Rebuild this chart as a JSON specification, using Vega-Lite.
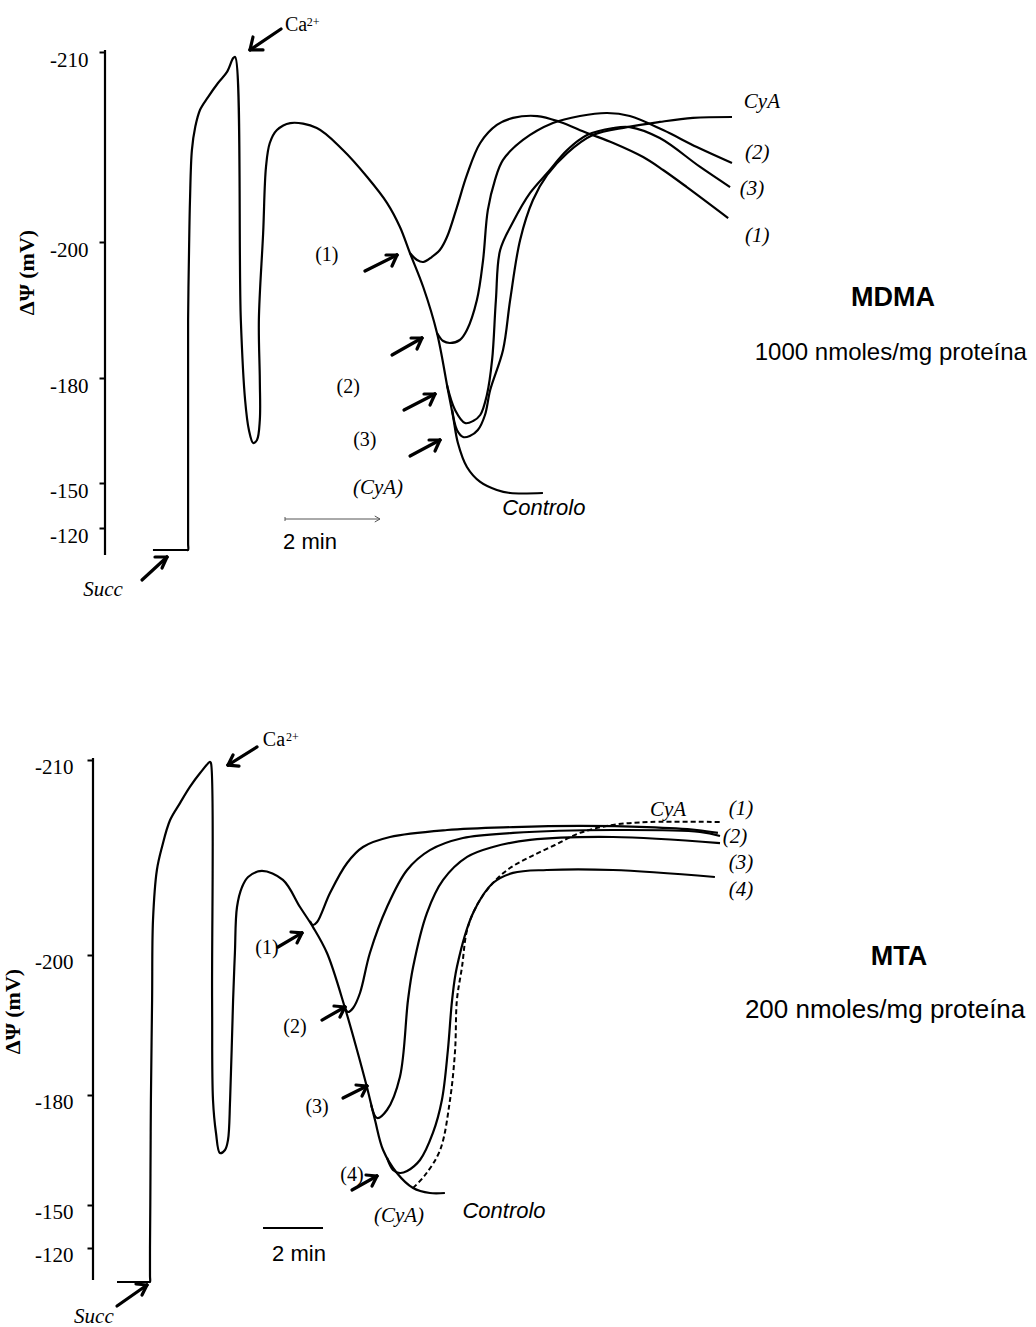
{
  "$schema": "https://vega.github.io/schema/vega-lite/v6.json",
  "padding": 0,
  "spacing": 0,
  "bounds": "flush",
  "background": "white",
  "config": {"view": {"stroke": null, "fill": "white"}},
  "vconcat": [
    {
      "width": 1036,
      "height": 640,
      "encoding": {
        "x": {"field": "t", "type": "quantitative", "scale": {"domain": [0, 21.8105], "nice": false, "zero": false}, "axis": null},
        "y": {"field": "v", "type": "quantitative",
          "scale": {"domain": [-212.737, -210, -200, -180, -150, -120, -45.333], "range": [0, 52, 242, 378, 483, 528, 640], "nice": false, "zero": false},
          "axis": {"values": [-210, -200, -180, -150, -120], "offset": -105, "domain": false, "grid": false,
            "tickSize": 6, "tickWidth": 2, "tickColor": "black",
            "labelFont": "Liberation Serif", "labelFontSize": 21, "labelColor": "black", "labelPadding": 11, "labelOffset": 8,
            "labelExpr": "'-' + abs(datum.value)", "labelFlush": false, "labelOverlap": false,
            "title": "ΔΨ (mV)", "titleFont": "Liberation Serif", "titleFontWeight": "bold", "titleFontSize": 22, "titleColor": "black",
            "titleAngle": -90, "titleX": -79, "titleY": 272, "titleAlign": "center", "titleBaseline": "middle"}
        }
      },
      "layer": [
        {
          "data": {"values": [{"t": 2.2105, "v": -210.105, "v2": -102}]},
          "mark": {"type": "rule", "color": "black", "strokeWidth": 2.2},
          "encoding": {"y2": {"field": "v2"}}
        },
        {
          "data": {"values": [
            {"s":"Controlo","i":1,"t":3.22,"v":-105.33},{"s":"Controlo","i":1.9,"t":3.93,"v":-105.33},{"s":"Controlo","i":2,"t":3.96,"v":-105.33},
            {"s":"Controlo","i":2.5,"t":3.96,"v":-109.33},{"s":"Controlo","i":3,"t":3.96,"v":-118.67},
            {"s":"Controlo","i":3.2,"t":3.96,"v":-150.0},{"s":"Controlo","i":3.4,"t":3.96,"v":-165.14},{"s":"Controlo","i":3.6,"t":3.96,"v":-180.0},
            {"s":"Controlo","i":4,"t":3.96,"v":-188.53},{"s":"Controlo","i":5,"t":3.98,"v":-198.82},{"s":"Controlo","i":6,"t":4.00,"v":-202.21},
            {"s":"Controlo","i":7,"t":4.04,"v":-204.84},{"s":"Controlo","i":8,"t":4.11,"v":-206.05},{"s":"Controlo","i":9,"t":4.21,"v":-206.95},
            {"s":"Controlo","i":10,"t":4.38,"v":-207.63},{"s":"Controlo","i":11,"t":4.59,"v":-208.37},{"s":"Controlo","i":12,"t":4.78,"v":-208.95},
            {"s":"Controlo","i":13,"t":4.91,"v":-209.68},{"s":"Controlo","i":14,"t":4.95,"v":-209.74},{"s":"Controlo","i":15,"t":5.07,"v":-188.53},
            {"s":"Controlo","i":16,"t":5.16,"v":-173.71},{"s":"Controlo","i":17,"t":5.24,"v":-165.14},{"s":"Controlo","i":18,"t":5.33,"v":-161.43},
            {"s":"Controlo","i":19,"t":5.41,"v":-162.29},{"s":"Controlo","i":20,"t":5.47,"v":-168.0},{"s":"Controlo","i":21,"t":5.47,"v":-179.43},
            {"s":"Controlo","i":22,"t":5.45,"v":-188.53},{"s":"Controlo","i":23,"t":5.54,"v":-200.47},{"s":"Controlo","i":24,"t":5.60,"v":-203.95},
            {"s":"Controlo","i":25,"t":5.68,"v":-205.21},{"s":"Controlo","i":26,"t":5.83,"v":-205.89},{"s":"Controlo","i":27,"t":6.11,"v":-206.26},
            {"s":"Controlo","i":28,"t":6.67,"v":-206.0},{"s":"Controlo","i":29,"t":7.22,"v":-204.84},{"s":"Controlo","i":30,"t":7.73,"v":-203.42},
            {"s":"Controlo","i":31,"t":8.15,"v":-202.05},{"s":"Controlo","i":32,"t":8.42,"v":-200.79},{"s":"Controlo","i":33,"t":8.63,"v":-198.38},
            {"s":"Controlo","i":34,"t":8.91,"v":-193.38},{"s":"Controlo","i":35,"t":9.20,"v":-186.62},{"s":"Controlo","i":36,"t":9.43,"v":-176.57},
            {"s":"Controlo","i":37,"t":9.54,"v":-168.86},{"s":"Controlo","i":38,"t":9.64,"v":-161.43},{"s":"Controlo","i":39,"t":9.83,"v":-154.57},
            {"s":"Controlo","i":40,"t":10.11,"v":-150.29},{"s":"Controlo","i":41,"t":10.46,"v":-145.33},{"s":"Controlo","i":42,"t":10.74,"v":-143.33},
            {"s":"Controlo","i":43,"t":11.43,"v":-143.33},
            {"s":"1","i":1,"t":8.63,"v":-198.38},{"s":"1","i":2,"t":8.78,"v":-197.35},{"s":"1","i":3,"t":8.91,"v":-197.06},
            {"s":"1","i":4,"t":9.09,"v":-197.79},{"s":"1","i":5,"t":9.26,"v":-198.82},{"s":"1","i":6,"t":9.41,"v":-200.26},
            {"s":"1","i":7,"t":9.62,"v":-201.84},{"s":"1","i":8,"t":9.83,"v":-203.53},{"s":"1","i":9,"t":10.11,"v":-205.21},
            {"s":"1","i":10,"t":10.46,"v":-206.16},{"s":"1","i":11,"t":10.80,"v":-206.53},{"s":"1","i":12,"t":11.31,"v":-206.63},
            {"s":"1","i":13,"t":11.79,"v":-206.32},{"s":"1","i":14,"t":12.36,"v":-205.74},{"s":"1","i":15,"t":12.91,"v":-205.21},
            {"s":"1","i":16,"t":13.54,"v":-204.47},{"s":"1","i":17,"t":13.96,"v":-203.79},{"s":"1","i":18,"t":14.46,"v":-202.89},
            {"s":"1","i":19,"t":15.33,"v":-201.26},
            {"s":"2","i":1,"t":9.20,"v":-186.62},{"s":"2","i":2,"t":9.33,"v":-185.44},{"s":"2","i":3,"t":9.47,"v":-185.15},
            {"s":"2","i":4,"t":9.68,"v":-185.59},{"s":"2","i":5,"t":9.83,"v":-187.06},{"s":"2","i":6,"t":10.04,"v":-191.47},
            {"s":"2","i":7,"t":10.17,"v":-197.35},{"s":"2","i":8,"t":10.27,"v":-201.68},{"s":"2","i":9,"t":10.42,"v":-203.26},
            {"s":"2","i":10,"t":10.59,"v":-204.32},{"s":"2","i":11,"t":11.01,"v":-205.37},{"s":"2","i":12,"t":11.64,"v":-206.26},
            {"s":"2","i":13,"t":12.21,"v":-206.63},{"s":"2","i":14,"t":12.78,"v":-206.79},{"s":"2","i":15,"t":13.26,"v":-206.63},
            {"s":"2","i":16,"t":13.96,"v":-205.89},{"s":"2","i":17,"t":14.67,"v":-205.0},{"s":"2","i":18,"t":15.41,"v":-204.16},
            {"s":"3","i":1,"t":9.41,"v":-178.0},{"s":"3","i":2,"t":9.58,"v":-170.86},{"s":"3","i":3,"t":9.79,"v":-167.14},
            {"s":"3","i":4,"t":9.96,"v":-167.71},{"s":"3","i":5,"t":10.11,"v":-169.43},{"s":"3","i":6,"t":10.25,"v":-175.14},
            {"s":"3","i":7,"t":10.36,"v":-182.65},{"s":"3","i":8,"t":10.44,"v":-191.47},{"s":"3","i":9,"t":10.53,"v":-198.82},
            {"s":"3","i":10,"t":10.80,"v":-201.05},{"s":"3","i":11,"t":11.16,"v":-202.58},{"s":"3","i":12,"t":11.52,"v":-203.63},
            {"s":"3","i":13,"t":11.94,"v":-204.84},{"s":"3","i":14,"t":12.36,"v":-205.63},{"s":"3","i":15,"t":12.91,"v":-206.0},
            {"s":"3","i":16,"t":13.26,"v":-206.05},{"s":"3","i":17,"t":13.89,"v":-205.47},{"s":"3","i":18,"t":14.74,"v":-203.95},
            {"s":"3","i":19,"t":15.37,"v":-202.89},
            {"s":"CyA","i":1,"t":9.52,"v":-170.86},{"s":"CyA","i":2,"t":9.62,"v":-165.14},{"s":"CyA","i":3,"t":9.75,"v":-163.14},
            {"s":"CyA","i":4,"t":9.89,"v":-163.43},{"s":"CyA","i":5,"t":10.06,"v":-165.14},{"s":"CyA","i":6,"t":10.21,"v":-169.43},
            {"s":"CyA","i":7,"t":10.32,"v":-176.57},{"s":"CyA","i":8,"t":10.59,"v":-184.12},{"s":"CyA","i":9,"t":10.74,"v":-191.47},
            {"s":"CyA","i":10,"t":10.95,"v":-200.11},{"s":"CyA","i":11,"t":11.22,"v":-202.21},{"s":"CyA","i":12,"t":11.52,"v":-203.53},
            {"s":"CyA","i":13,"t":11.94,"v":-204.68},{"s":"CyA","i":14,"t":12.48,"v":-205.63},{"s":"CyA","i":15,"t":13.20,"v":-206.05},
            {"s":"CyA","i":16,"t":13.89,"v":-206.32},{"s":"CyA","i":17,"t":14.59,"v":-206.53},{"s":"CyA","i":18,"t":15.41,"v":-206.58}
          ]},
          "mark": {"type": "line", "color": "black", "strokeWidth": 2.2, "strokeJoin": "round", "interpolate": "catmull-rom"},
          "encoding": {"detail": {"field": "s"}, "order": {"field": "i", "type": "quantitative"}}
        },
        {
          "data": {"values": [
            {"t":5.916,"v":-211.21,"t2":5.263,"v2":-210.11},{"t":5.263,"v":-210.11,"t2":5.537,"v2":-210.11},{"t":5.263,"v":-210.11,"t2":5.326,"v2":-210.79},
            {"t":2.989,"v":-85.33,"t2":3.516,"v2":-100.67},{"t":3.516,"v":-100.67,"t2":3.263,"v2":-100.67},{"t":3.516,"v":-100.67,"t2":3.411,"v2":-93.33},
            {"t":7.684,"v":-195.74,"t2":8.358,"v2":-198.09},{"t":8.358,"v":-198.09,"t2":8.126,"v2":-198.09},{"t":8.358,"v":-198.09,"t2":8.253,"v2":-196.47},
            {"t":8.253,"v":-183.38,"t2":8.884,"v2":-185.88},{"t":8.884,"v":-185.88,"t2":8.653,"v2":-185.88},{"t":8.884,"v":-185.88,"t2":8.779,"v2":-184.26},
            {"t":8.505,"v":-170.86,"t2":9.158,"v2":-175.43},{"t":9.158,"v":-175.43,"t2":8.926,"v2":-175.43},{"t":9.158,"v":-175.43,"t2":9.053,"v2":-172.29},
            {"t":8.632,"v":-157.71,"t2":9.263,"v2":-162.29},{"t":9.263,"v":-162.29,"t2":9.032,"v2":-162.29},{"t":9.263,"v":-162.29,"t2":9.158,"v2":-159.14}
          ]},
          "mark": {"type": "rule", "color": "black", "strokeWidth": 3.2, "strokeCap": "round"},
          "encoding": {"x2": {"field": "t2"}, "y2": {"field": "v2"}}
        },
        {
          "data": {"values": [
            {"t":6.0,"v":-126,"t2":8.0,"v2":-126},{"t":8.0,"v":-126,"t2":7.89,"v2":-128},{"t":8.0,"v":-126,"t2":7.89,"v2":-124},
            {"t":6.0,"v":-127.33,"t2":6.0,"v2":-124.67}
          ]},
          "mark": {"type": "rule", "color": "#555555", "strokeWidth": 1},
          "encoding": {"x2": {"field": "t2"}, "y2": {"field": "v2"}}
        },
        {
          "data": {"values": [
            {"t":6.88,"v":-198.09,"txt":"(1)"},{"t":7.33,"v":-177.43,"txt":"(2)"},{"t":7.68,"v":-162.29,"txt":"(3)"},{"t":6.232,"v":-211.42,"txt":"Ca"}
          ]},
          "mark": {"type": "text", "font": "Liberation Serif", "fontSize": 20, "color": "black", "align": "center", "baseline": "middle"},
          "encoding": {"text": {"field": "txt"}}
        },
        {
          "data": {"values": [{"t":6.59,"v":-211.58,"txt":"2+"}]},
          "mark": {"type": "text", "font": "Liberation Serif", "fontSize": 12, "color": "black", "align": "center", "baseline": "middle"},
          "encoding": {"text": {"field": "txt"}}
        },
        {
          "data": {"values": [
            {"t":2.168,"v":-78.67,"txt":"Succ"},{"t":7.958,"v":-146.67,"txt":"(CyA)"},{"t":16.04,"v":-207.37,"txt":"CyA"},
            {"t":15.94,"v":-204.68,"txt":"(2)"},{"t":15.83,"v":-202.79,"txt":"(3)"},{"t":15.94,"v":-200.32,"txt":"(1)"}
          ]},
          "mark": {"type": "text", "font": "Liberation Serif", "fontStyle": "italic", "fontSize": 21, "color": "black", "align": "center", "baseline": "middle"},
          "encoding": {"text": {"field": "txt"}}
        },
        {
          "data": {"values": [{"t":11.45,"v":-133.33,"txt":"Controlo"}]},
          "mark": {"type": "text", "font": "Liberation Sans", "fontStyle": "italic", "fontSize": 22, "color": "black", "align": "center", "baseline": "middle"},
          "encoding": {"text": {"field": "txt"}}
        },
        {
          "data": {"values": [{"t":18.8,"v":-191.76,"txt":"MDMA"}]},
          "mark": {"type": "text", "font": "Liberation Sans", "fontWeight": "bold", "fontSize": 27, "color": "black", "align": "center", "baseline": "middle"},
          "encoding": {"text": {"field": "txt"}}
        },
        {
          "data": {"values": [{"t":15.89,"v":-183.68,"txt":"1000 nmoles/mg proteína"}]},
          "mark": {"type": "text", "font": "Liberation Sans", "fontSize": 24, "color": "black", "align": "left", "baseline": "middle"},
          "encoding": {"text": {"field": "txt"}}
        },
        {
          "data": {"values": [{"t":5.96,"v":-110.67,"txt":"2 min"}]},
          "mark": {"type": "text", "font": "Liberation Sans", "fontSize": 22, "color": "black", "align": "left", "baseline": "middle"},
          "encoding": {"text": {"field": "txt"}}
        }
      ]
    },
    {
      "width": 1036,
      "height": 687,
      "encoding": {
        "x": {"field": "t", "type": "quantitative", "scale": {"domain": [0, 34.5333], "nice": false, "zero": false}, "axis": null},
        "y": {"field": "v", "type": "quantitative",
          "scale": {"domain": [-216.154, -210, -200, -180, -150, -120, -64.87], "range": [0, 120, 315, 455, 565, 608, 687], "nice": false, "zero": false},
          "axis": {"values": [-210, -200, -180, -150, -120], "offset": -93, "domain": false, "grid": false,
            "tickSize": 6, "tickWidth": 2, "tickColor": "black",
            "labelFont": "Liberation Serif", "labelFontSize": 21, "labelColor": "black", "labelPadding": 14, "labelOffset": 7,
            "labelExpr": "'-' + abs(datum.value)", "labelFlush": false, "labelOverlap": false,
            "title": "ΔΨ (mV)", "titleFont": "Liberation Serif", "titleFontWeight": "bold", "titleFontSize": 22, "titleColor": "black",
            "titleAngle": -90, "titleX": -81, "titleY": 371, "titleAlign": "center", "titleBaseline": "middle"}
        }
      },
      "layer": [
        {
          "data": {"values": [{"t": 3.1, "v": -210.103, "v2": -97.67}]},
          "mark": {"type": "rule", "color": "black", "strokeWidth": 2.2},
          "encoding": {"y2": {"field": "v2"}}
        },
        {
          "data": {"values": [
            {"s":"Controlo","i":1,"t":3.9,"v":-96.28},{"s":"Controlo","i":1.9,"t":4.97,"v":-96.28},{"s":"Controlo","i":2,"t":5.0,"v":-96.28},
            {"s":"Controlo","i":2.3,"t":5.0,"v":-100.5},{"s":"Controlo","i":2.5,"t":5.0,"v":-120.0},{"s":"Controlo","i":2.7,"t":5.01,"v":-150.0},
            {"s":"Controlo","i":2.85,"t":5.02,"v":-165.0},
            {"s":"Controlo","i":3,"t":5.03,"v":-178.64},
            {"s":"Controlo","i":4,"t":5.07,"v":-193.57},{"s":"Controlo","i":5,"t":5.1,"v":-201.79},{"s":"Controlo","i":6,"t":5.23,"v":-204.36},
            {"s":"Controlo","i":7,"t":5.4,"v":-205.54},{"s":"Controlo","i":8,"t":5.67,"v":-206.92},{"s":"Controlo","i":9,"t":6.0,"v":-207.79},
            {"s":"Controlo","i":10,"t":6.33,"v":-208.62},{"s":"Controlo","i":11,"t":6.67,"v":-209.33},{"s":"Controlo","i":12,"t":7.0,"v":-209.9},
            {"s":"Controlo","i":13,"t":7.03,"v":-209.85},{"s":"Controlo","i":14,"t":7.07,"v":-193.57},{"s":"Controlo","i":15,"t":7.1,"v":-178.64},
            {"s":"Controlo","i":16,"t":7.2,"v":-169.64},{"s":"Controlo","i":17,"t":7.33,"v":-164.18},{"s":"Controlo","i":18,"t":7.5,"v":-165.0},
            {"s":"Controlo","i":19,"t":7.6,"v":-167.73},{"s":"Controlo","i":20,"t":7.67,"v":-178.64},{"s":"Controlo","i":21,"t":7.77,"v":-193.57},
            {"s":"Controlo","i":22,"t":7.83,"v":-200.1},{"s":"Controlo","i":23,"t":7.9,"v":-202.46},{"s":"Controlo","i":24,"t":8.07,"v":-203.49},
            {"s":"Controlo","i":25,"t":8.27,"v":-204.0},{"s":"Controlo","i":26,"t":8.73,"v":-204.31},{"s":"Controlo","i":27,"t":9.43,"v":-203.85},
            {"s":"Controlo","i":28,"t":10.0,"v":-202.46},{"s":"Controlo","i":29,"t":10.43,"v":-201.44},{"s":"Controlo","i":30,"t":10.9,"v":-200.1},
            {"s":"Controlo","i":31,"t":11.5,"v":-192.43},{"s":"Controlo","i":32,"t":11.9,"v":-186.43},{"s":"Controlo","i":33,"t":12.23,"v":-181.14},
            {"s":"Controlo","i":34,"t":12.5,"v":-173.18},{"s":"Controlo","i":35,"t":12.77,"v":-165.0},{"s":"Controlo","i":36,"t":13.23,"v":-158.73},
            {"s":"Controlo","i":37,"t":13.77,"v":-154.64},{"s":"Controlo","i":38,"t":14.33,"v":-153.27},{"s":"Controlo","i":39,"t":14.83,"v":-153.27},
            {"s":"1","i":1,"t":10.33,"v":-201.74},{"s":"1","i":2,"t":10.43,"v":-201.54},{"s":"1","i":3,"t":10.57,"v":-201.69},
            {"s":"1","i":4,"t":11.0,"v":-203.18},{"s":"1","i":5,"t":11.57,"v":-204.72},{"s":"1","i":6,"t":12.1,"v":-205.54},
            {"s":"1","i":7,"t":13.0,"v":-206.05},{"s":"1","i":8,"t":14.9,"v":-206.41},{"s":"1","i":9,"t":17.1,"v":-206.56},
            {"s":"1","i":10,"t":19.33,"v":-206.62},{"s":"1","i":11,"t":21.57,"v":-206.56},{"s":"1","i":12,"t":23.23,"v":-206.41},
            {"s":"1","i":13,"t":23.93,"v":-206.26},
            {"s":"2","i":1,"t":11.5,"v":-192.43},{"s":"2","i":2,"t":11.6,"v":-191.86},{"s":"2","i":3,"t":11.77,"v":-192.43},
            {"s":"2","i":4,"t":12.0,"v":-194.57},{"s":"2","i":5,"t":12.33,"v":-200.1},{"s":"2","i":6,"t":12.9,"v":-202.46},
            {"s":"2","i":7,"t":13.57,"v":-204.36},{"s":"2","i":8,"t":14.33,"v":-205.38},{"s":"2","i":9,"t":15.43,"v":-206.0},
            {"s":"2","i":10,"t":17.1,"v":-206.26},{"s":"2","i":11,"t":20.43,"v":-206.41},{"s":"2","i":12,"t":23.33,"v":-206.31},
            {"s":"2","i":13,"t":24.0,"v":-206.1},
            {"s":"3","i":1,"t":12.37,"v":-177.27},{"s":"3","i":2,"t":12.57,"v":-173.73},{"s":"3","i":3,"t":12.9,"v":-175.91},
            {"s":"3","i":4,"t":13.33,"v":-182.57},{"s":"3","i":5,"t":13.6,"v":-193.57},{"s":"3","i":6,"t":13.77,"v":-198.29},
            {"s":"3","i":7,"t":14.23,"v":-202.15},{"s":"3","i":8,"t":14.77,"v":-203.85},{"s":"3","i":9,"t":15.57,"v":-205.03},
            {"s":"3","i":10,"t":16.43,"v":-205.54},{"s":"3","i":11,"t":17.67,"v":-205.9},{"s":"3","i":12,"t":20.43,"v":-206.05},
            {"s":"3","i":13,"t":24.0,"v":-205.74},
            {"s":"4","i":1,"t":12.9,"v":-162.82},{"s":"4","i":2,"t":13.1,"v":-159.55},{"s":"4","i":3,"t":13.33,"v":-158.73},
            {"s":"4","i":4,"t":13.57,"v":-159.27},{"s":"4","i":5,"t":14.0,"v":-162.27},{"s":"4","i":6,"t":14.43,"v":-169.64},
            {"s":"4","i":7,"t":14.73,"v":-178.64},{"s":"4","i":8,"t":14.93,"v":-186.43},{"s":"4","i":9,"t":15.07,"v":-193.57},
            {"s":"4","i":10,"t":15.23,"v":-198.29},{"s":"4","i":11,"t":15.77,"v":-202.15},{"s":"4","i":12,"t":16.43,"v":-203.69},
            {"s":"4","i":13,"t":17.1,"v":-204.21},{"s":"4","i":14,"t":18.23,"v":-204.36},{"s":"4","i":15,"t":20.43,"v":-204.36},
            {"s":"4","i":16,"t":23.83,"v":-204.0}
          ]},
          "mark": {"type": "line", "color": "black", "strokeWidth": 2.2, "strokeJoin": "round", "interpolate": "catmull-rom"},
          "encoding": {"detail": {"field": "s"}, "order": {"field": "i", "type": "quantitative"}}
        },
        {
          "data": {"values": [
            {"s":"CyA","i":1,"t":13.77,"v":-154.64},{"s":"CyA","i":2,"t":14.17,"v":-158.18},{"s":"CyA","i":3,"t":14.67,"v":-165.0},
            {"s":"CyA","i":4,"t":15.0,"v":-178.64},{"s":"CyA","i":5,"t":15.17,"v":-186.43},{"s":"CyA","i":6,"t":15.23,"v":-193.57},
            {"s":"CyA","i":7,"t":15.4,"v":-198.29},{"s":"CyA","i":8,"t":15.57,"v":-201.28},{"s":"CyA","i":9,"t":15.9,"v":-202.56},
            {"s":"CyA","i":10,"t":16.43,"v":-203.69},{"s":"CyA","i":11,"t":17.0,"v":-204.46},{"s":"CyA","i":12,"t":17.67,"v":-205.03},
            {"s":"CyA","i":13,"t":18.5,"v":-205.64},{"s":"CyA","i":14,"t":19.33,"v":-206.26},{"s":"CyA","i":15,"t":20.43,"v":-206.67},
            {"s":"CyA","i":16,"t":21.67,"v":-206.82},{"s":"CyA","i":17,"t":24.0,"v":-206.82}
          ]},
          "mark": {"type": "line", "color": "black", "strokeWidth": 2, "strokeDash": [5, 3], "interpolate": "catmull-rom"},
          "encoding": {"order": {"field": "i", "type": "quantitative"}}
        },
        {
          "data": {"values": [
            {"t":8.567,"v":-210.67,"t2":7.6,"v2":-209.74},{"t":7.6,"v":-209.74,"t2":7.967,"v2":-209.69},{"t":7.6,"v":-209.74,"t2":7.767,"v2":-210.26},
            {"t":3.9,"v":-79.53,"t2":4.9,"v2":-94.19},{"t":4.9,"v":-94.19,"t2":4.533,"v2":-94.88},{"t":4.9,"v":-94.19,"t2":4.733,"v2":-87.21},
            {"t":9.267,"v":-200.41,"t2":10.067,"v2":-201.13},{"t":10.067,"v":-201.13,"t2":9.7,"v2":-201.18},{"t":10.067,"v":-201.13,"t2":9.9,"v2":-200.62},
            {"t":10.733,"v":-190.71,"t2":11.5,"v2":-192.57},{"t":11.5,"v":-192.57,"t2":11.133,"v2":-192.71},{"t":11.5,"v":-192.57,"t2":11.333,"v2":-191.14},
            {"t":11.433,"v":-179.18,"t2":12.233,"v2":-181.29},{"t":12.233,"v":-181.29,"t2":11.867,"v2":-181.43},{"t":12.233,"v":-181.29,"t2":12.067,"v2":-179.73},
            {"t":11.733,"v":-154.09,"t2":12.567,"v2":-157.91},{"t":12.567,"v":-157.91,"t2":12.2,"v2":-158.18},{"t":12.567,"v":-157.91,"t2":12.4,"v2":-155.18}
          ]},
          "mark": {"type": "rule", "color": "black", "strokeWidth": 3.2, "strokeCap": "round"},
          "encoding": {"x2": {"field": "t2"}, "y2": {"field": "v2"}}
        },
        {
          "data": {"values": [{"t":8.767,"v":-133.95,"t2":10.767,"v2":-133.95}]},
          "mark": {"type": "rule", "color": "black", "strokeWidth": 2},
          "encoding": {"x2": {"field": "t2"}, "y2": {"field": "v2"}}
        },
        {
          "data": {"values": [
            {"t":8.9,"v":-200.36,"txt":"(1)"},{"t":9.83,"v":-189.71,"txt":"(2)"},{"t":10.57,"v":-176.73,"txt":"(3)"},{"t":11.73,"v":-158.18,"txt":"(4)"},
            {"t":9.13,"v":-211.03,"txt":"Ca"}
          ]},
          "mark": {"type": "text", "font": "Liberation Serif", "fontSize": 20, "color": "black", "align": "center", "baseline": "middle"},
          "encoding": {"text": {"field": "txt"}}
        },
        {
          "data": {"values": [{"t":9.75,"v":-211.18,"txt":"2+"}]},
          "mark": {"type": "text", "font": "Liberation Serif", "fontSize": 12, "color": "black", "align": "center", "baseline": "middle"},
          "encoding": {"text": {"field": "txt"}}
        },
        {
          "data": {"values": [
            {"t":3.13,"v":-71.86,"txt":"Succ"},{"t":13.3,"v":-142.33,"txt":"(CyA)"},{"t":22.27,"v":-207.44,"txt":"CyA"},
            {"t":24.7,"v":-207.49,"txt":"(1)"},{"t":24.5,"v":-206.05,"txt":"(2)"},{"t":24.7,"v":-204.72,"txt":"(3)"},{"t":24.7,"v":-203.33,"txt":"(4)"}
          ]},
          "mark": {"type": "text", "font": "Liberation Serif", "fontStyle": "italic", "fontSize": 21, "color": "black", "align": "center", "baseline": "middle"},
          "encoding": {"text": {"field": "txt"}}
        },
        {
          "data": {"values": [{"t":16.8,"v":-145.81,"txt":"Controlo"}]},
          "mark": {"type": "text", "font": "Liberation Sans", "fontStyle": "italic", "fontSize": 22, "color": "black", "align": "center", "baseline": "middle"},
          "encoding": {"text": {"field": "txt"}}
        },
        {
          "data": {"values": [{"t":29.97,"v":-199.71,"txt":"MTA"}]},
          "mark": {"type": "text", "font": "Liberation Sans", "fontWeight": "bold", "fontSize": 27, "color": "black", "align": "center", "baseline": "middle"},
          "encoding": {"text": {"field": "txt"}}
        },
        {
          "data": {"values": [{"t":24.83,"v":-192.14,"txt":"200 nmoles/mg proteína"}]},
          "mark": {"type": "text", "font": "Liberation Sans", "fontSize": 26, "color": "black", "align": "left", "baseline": "middle"},
          "encoding": {"text": {"field": "txt"}}
        },
        {
          "data": {"values": [{"t":9.07,"v":-115.81,"txt":"2 min"}]},
          "mark": {"type": "text", "font": "Liberation Sans", "fontSize": 22, "color": "black", "align": "left", "baseline": "middle"},
          "encoding": {"text": {"field": "txt"}}
        }
      ]
    }
  ]
}
